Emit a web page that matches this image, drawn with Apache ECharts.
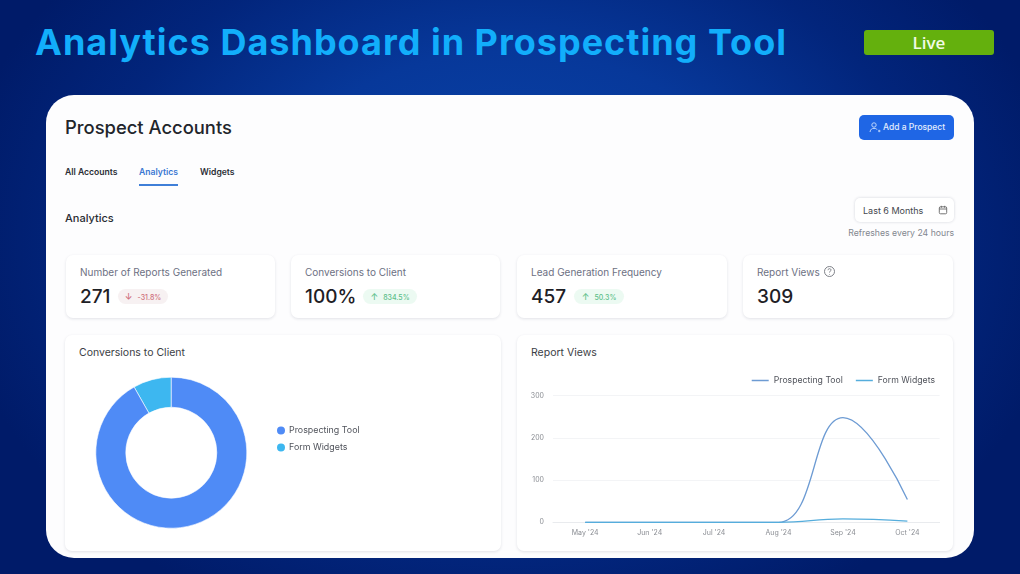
<!DOCTYPE html>
<html><head><meta charset="utf-8">
<script src="https://cdn.jsdelivr.net/npm/echarts@6/dist/echarts.min.js"></script>
<style>
html,body{margin:0;padding:0}
body{width:1020px;height:574px;overflow:hidden;position:relative;font-family:Inter,sans-serif;
background:radial-gradient(ellipse 560px 420px at 510px 240px,#0a46ac 0%,#07389a 45%,#02257c 75%,#001b69 100%)}
.a{position:absolute;white-space:nowrap}
.card{position:absolute;background:#fff;border-radius:7px;box-shadow:0 1px 3px rgba(40,50,80,.13)}
.pill{position:absolute;height:15px;border-radius:8px;font-size:7px;line-height:15px;text-align:center;font-weight:500}
</style></head><body>
<div class="a" id="title" style="left:35px;top:18px;font:700 36px/48px Inter,sans-serif;letter-spacing:1px;color:#12aefb"></div>
<div class="a" id="live" style="left:864px;top:30px;width:130px;height:25px;border-radius:3px;background:#64b00d;color:#f2fbe6;text-align:center;font:600 17px/26px 'Open Sans',sans-serif"></div>
<div class="a" style="left:46px;top:95px;width:928px;height:463px;border-radius:28px;background:#fdfdfe"></div>
<div class="a" id="heading" style="left:65px;top:115px;font:500 18.4px/24px Inter;color:#22252b"></div>
<div class="a" style="left:859px;top:115px;width:95px;height:25px;border-radius:5px;background:#1f66e5"></div>
<svg class="a" style="left:869px;top:122px" width="12" height="11" viewBox="0 0 12 11" fill="none" stroke="#bcd4fb" stroke-width="1"><circle cx="5" cy="3" r="2.2"/><path d="M1 10c.5-3 2-3.6 4-3.6s2.6.4 3 1.2M9 9h2.5M10.2 7.8v2.4"/></svg>
<div class="a" id="addBtn" style="left:883px;top:115px;font:500 8.5px/25px Inter;color:#e3edfd"></div>
<div id="tabs"></div>
<div class="a" style="left:139px;top:184px;width:39px;height:1.5px;background:#3f7fd8"></div>
<div class="a" id="section" style="left:65px;top:211px;font:500 11px/15px Inter;color:#2a2d33"></div>
<div class="card" style="left:855px;top:198px;width:99px;height:24px;border-radius:5px;box-shadow:0 0 3px rgba(40,50,80,.2)"></div>
<div class="a" id="range" style="left:863px;top:198px;font:400 9px/25px Inter;color:#44474e"></div>
<svg class="a" style="left:938px;top:205px" width="10" height="10" viewBox="0 0 10 10" fill="none" stroke="#666" stroke-width=".9"><rect x="1.3" y="1.8" width="7.4" height="7" rx="1.2"/><path d="M1.3 4h7.4M3.3 .8v2M6.7 .8v2"/></svg>
<div class="a" id="refresh" style="right:66px;top:227px;font:400 8.7px/13px Inter;color:#83878f"></div>
<div id="metrics"></div>
<div class="card" style="left:65px;top:335px;width:436px;height:216px"></div>
<div class="card" style="left:517px;top:335px;width:436px;height:216px"></div>
<div class="a" id="panelA" style="left:79px;top:345px;font:400 10.5px/15px Inter;color:#3b3e45"></div>
<div class="a" id="panelB" style="left:531px;top:345px;font:400 10.5px/15px Inter;color:#3b3e45"></div>
<div id="pie" class="a" style="left:65px;top:335px;width:436px;height:216px"></div>
<div id="line" class="a" style="left:517px;top:335px;width:436px;height:216px"></div>
<script>
const titleText = 'Analytics Dashboard in Prospecting Tool';
const liveText = 'Live';
const headingText = 'Prospect Accounts';
const addText = 'Add a Prospect';
const sectionText = 'Analytics';
const rangeText = 'Last 6 Months';
const refreshText = 'Refreshes every 24 hours';
const tabLabels = ['All Accounts', 'Analytics', 'Widgets'];
const metricLabels = ['Number of Reports Generated', 'Conversions to Client', 'Lead Generation Frequency', 'Report Views'];
const metricValues = ['271', '100%', '457', '309'];
const metricChanges = ['-31.8%', '834.5%', '50.3%', ''];
const panelTitles = ['Conversions to Client', 'Report Views'];
const seriesNames = ['Prospecting Tool', 'Form Widgets'];
const pieValues = [91.8, 8.2];
const months = ["May '24", "Jun '24", "Jul '24", "Aug '24", "Sep '24", "Oct '24"];
const prospectingViews = [0, 0, 0, 0, 248, 54];
const widgetViews = [0, 0, 0, 0, 8, 3];
const yTicks = [0, 100, 200, 300];

const set = (id, t) => document.getElementById(id).textContent = t;
set('title', titleText); set('live', liveText); set('heading', headingText); set('addBtn', addText);
set('section', sectionText); set('range', rangeText); set('refresh', refreshText);
set('panelA', panelTitles[0]); set('panelB', panelTitles[1]);

const tabX = [65, 139, 200];
document.getElementById('tabs').innerHTML = tabLabels.map((t, i) =>
  `<div class="a" style="left:${tabX[i]}px;top:165px;font:600 8.6px/14px Inter;color:${i === 1 ? '#3a78d2' : '#2b2e35'}">${t}</div>`).join('');

const cardX = [66, 291, 517, 743], cardW = [209, 209, 210, 210];
const pillX = [118, 363, 574], pillW = [50, 54, 50];
document.getElementById('metrics').innerHTML = metricLabels.map((t, i) => {
  const neg = metricChanges[i].startsWith('-');
  const arrow = neg ? '↓' : '↑';
  const pill = metricChanges[i] ? `<div class="pill" style="left:${pillX[i]}px;top:289px;width:${pillW[i]}px;background:${neg ? '#f7f1f2' : '#ecfaf2'};color:${neg ? '#cf6f7c' : '#5cbf8a'}"><span style="font-size:9px;margin-right:5px">${arrow}</span>${metricChanges[i]}</div>` : '';
  const help = i === 3 ? `<svg class="a" style="left:823px;top:265px" width="13" height="13" viewBox="0 0 13 13" fill="none" stroke="#70747c" stroke-width=".9"><circle cx="6.5" cy="6.5" r="5"/><path d="M5 5.2c0-2 3-2 3-.2 0 1.2-1.5 1.1-1.5 2.5M6.5 9v.6"/></svg>` : '';
  return `<div class="card" style="left:${cardX[i]}px;top:255px;width:${cardW[i]}px;height:63px"></div>
  <div class="a" style="left:${cardX[i] + 14}px;top:265px;font:400 10px/14px Inter;color:#6d7183">${t}</div>
  <div class="a" style="left:${cardX[i] + 14}px;top:284px;font:500 19px/25px Inter;color:#1e2025">${metricValues[i]}</div>${pill}${help}`;
}).join('');

const pieChart = echarts.init(document.getElementById('pie'), null, {renderer: 'canvas'});
pieChart.setOption({
  animation: false,
  backgroundColor: 'transparent',
  color: ['#4f8bf6', '#3db7f0'],
  legend: {
    orient: 'vertical', left: 205, top: 84.5, icon: 'circle', itemWidth: 10, itemHeight: 10, itemGap: 5,
    textStyle: {fontFamily: 'Inter', fontSize: 8.9, color: '#50535b', padding: [0, 0, 0, -2]}, data: seriesNames
  },
  series: [{
    type: 'pie', center: [106.3, 117.7], radius: [45.5, 75.5], startAngle: 90, clockwise: false,
    label: {show: false}, labelLine: {show: false},
    itemStyle: {borderColor: '#fff', borderWidth: 0.6},
    data: seriesNames.slice().reverse().map((n, i) => ({name: n, value: pieValues.slice().reverse()[i],
      itemStyle: {color: n === seriesNames[0] ? '#4f8bf6' : '#3db7f0'}}))
  }]
});

const lineChart = echarts.init(document.getElementById('line'), null, {renderer: 'canvas'});
lineChart.setOption({
  animation: false,
  backgroundColor: 'transparent',
  color: ['#6d9bd3', '#55addc'],
  legend: {
    right: 13, top: 36, itemWidth: 17, itemHeight: 1.5, itemGap: 13, icon: 'rect',
    textStyle: {fontFamily: 'Inter', fontSize: 8.7, color: '#50535b'}, data: seriesNames
  },
  grid: {left: 36, right: 13.4, top: 60.7, bottom: 28.7},
  xAxis: {
    type: 'category', data: months, boundaryGap: true,
    axisLine: {lineStyle: {color: '#e9ebee'}}, axisTick: {show: false},
    axisLabel: {fontFamily: 'Inter', fontSize: 7, color: '#8a8d93', margin: 7}
  },
  yAxis: {
    type: 'value', min: yTicks[0], max: yTicks[yTicks.length - 1], interval: yTicks[1] - yTicks[0],
    axisLine: {show: false}, axisTick: {show: false},
    axisLabel: {fontFamily: 'Inter', fontSize: 7, color: '#8a8d93', margin: 9},
    splitLine: {lineStyle: {color: '#f3f4f6'}}
  },
  series: [
    {name: seriesNames[0], type: 'line', data: prospectingViews, smooth: 0.45, showSymbol: false, lineStyle: {width: 1.3}},
    {name: seriesNames[1], type: 'line', data: widgetViews, smooth: 0.45, showSymbol: false, lineStyle: {width: 1.3}}
  ]
});
</script>
</body></html>
